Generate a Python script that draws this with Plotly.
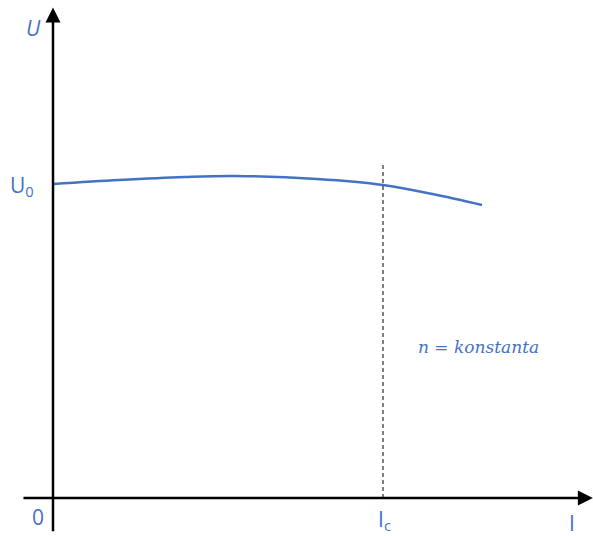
import plotly.graph_objects as go

# Load characteristic U(I) at constant speed, normalised so that Ic = 1 and U0 = 1
current = [0.0, 0.2, 0.4, 0.552, 0.8, 1.0, 1.15, 1.30]
voltage = [1.0, 1.0127, 1.0223, 1.0255, 1.0159, 0.9968, 0.968, 0.9331]

i_c = 1.0
u_0 = 1.0
dash_top = 1.0605

blue = "#4472C4"
label_font = dict(family="Open Sans, Liberation Sans, sans-serif", size=21, color=blue)

fig = go.Figure()
fig.add_trace(go.Scatter(
    x=current, y=voltage, mode="lines",
    line=dict(color=blue, width=2.5, shape="spline", smoothing=1.0),
    hoverinfo="skip", showlegend=False,
))

# Dashed marker at Ic
fig.add_shape(type="line", x0=i_c, x1=i_c, y0=0, y1=dash_top,
              line=dict(color="black", width=1, dash="4px,3px"))

# Axes drawn as arrows
fig.add_annotation(x=1.636, y=0, ax=-0.094, ay=0, xref="x", yref="y",
                   axref="x", ayref="y", showarrow=True, arrowhead=2,
                   arrowsize=1.2, arrowwidth=2.5, arrowcolor="black", text="")
fig.add_annotation(x=0, y=1.562, ax=0, ay=-0.111, xref="x", yref="y",
                   axref="x", ayref="y", showarrow=True, arrowhead=2,
                   arrowsize=1.2, arrowwidth=2.5, arrowcolor="black", text="")

# Labels
fig.add_annotation(x=-0.06, y=1.496, text="<i>U</i>", showarrow=False,
                   font=label_font, xanchor="center", yanchor="middle")
fig.add_annotation(x=-0.095, y=u_0 - 0.005, text="U<sub>0</sub>", showarrow=False,
                   font=label_font, xanchor="center", yanchor="middle")
fig.add_annotation(x=-0.045, y=-0.060, text="0", showarrow=False,
                   font=label_font, xanchor="center", yanchor="middle")
fig.add_annotation(x=i_c + 0.004, y=-0.070, text="I<sub>c</sub>", showarrow=False,
                   font=label_font, xanchor="center", yanchor="middle", borderpad=0)
fig.add_annotation(x=1.573, y=-0.080, text="I", showarrow=False,
                   font=label_font, xanchor="center", yanchor="middle", borderpad=0)
fig.add_annotation(x=1.288, y=0.481, text="<i>n</i> = <i>konstanta</i>", showarrow=False,
                   font=dict(family="DejaVu Serif, Liberation Serif, serif", size=17, color=blue),
                   xanchor="center", yanchor="middle")

fig.update_xaxes(range=[-53 / 330, 540 / 330], visible=False, fixedrange=True)
fig.update_yaxes(range=[-38 / 314, 498 / 314], visible=False, fixedrange=True)
fig.update_layout(
    width=593, height=536,
    margin=dict(l=0, r=0, t=0, b=0),
    plot_bgcolor="white", paper_bgcolor="white",
)

fig.write_html("out.html")
